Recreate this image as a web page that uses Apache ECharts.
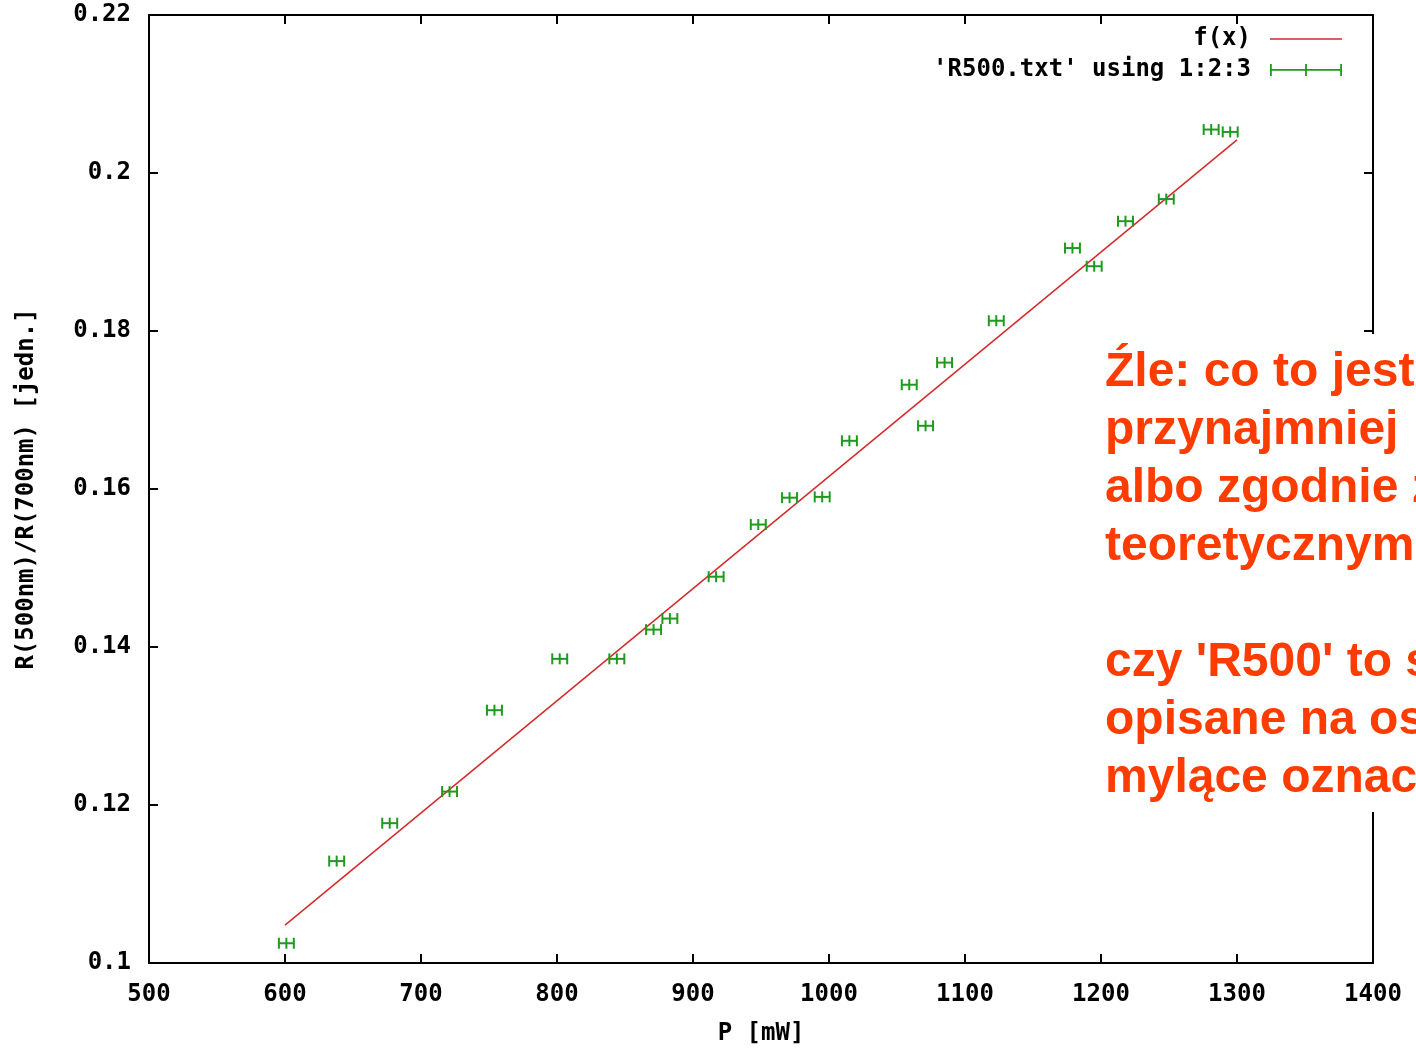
<!DOCTYPE html>
<html>
<head>
<meta charset="utf-8">
<title>R500</title>
<script src="https://cdn.jsdelivr.net/npm/echarts@6/dist/echarts.min.js"></script>
<style>
html, body { margin: 0; padding: 0; background: #fff; }
#chart { width: 1416px; height: 1048px; }
</style>
</head>
<body>
<div id="chart"></div>
<script>
// dane pomiarowe: P [mW], R(500nm)/R(700nm), niepewnosc P
var powerMW = [601, 638, 677, 721, 754, 802, 844, 871, 883, 917, 948, 971, 995, 1015, 1059, 1071, 1085, 1123, 1179, 1195, 1218, 1248, 1281, 1295];
var ratio = [0.1025, 0.1129, 0.1177, 0.1217, 0.1320, 0.1385, 0.1385, 0.1422, 0.1436, 0.1489, 0.1555, 0.1589, 0.1590, 0.1661, 0.1732, 0.1680, 0.1760, 0.1813, 0.1905, 0.1882, 0.1939, 0.1967, 0.2055, 0.2052];
var powerErr = [5.5, 5.5, 5.5, 5.5, 5.5, 5.5, 5.5, 5.5, 5.5, 5.5, 5.5, 5.5, 5.5, 5.5, 5.5, 5.5, 5.5, 5.5, 5.5, 5.5, 5.5, 5.5, 5.5, 5.5];

// dopasowana prosta f(x)
var fitX = [600, 1300];
var fitY = [0.1048, 0.2042];

var xTicks = { min: 500, max: 1400, step: 100 };
var yTicks = { min: 0.1, max: 0.22, step: 0.02 };

var noteLines = [
	'Źle: co to jest',
	'przynajmniej',
	'albo zgodnie z',
	'teoretycznym,',
	'',
	"czy 'R500' to s",
	'opisane na os',
	'mylące oznac'
];

var monoFont = '"DejaVu Sans Mono", "Liberation Mono", monospace';
var red = '#d42a2a';
var green = '#1f9a1f';

var fitData = fitX.map(function (x, i) { return [x, fitY[i]]; });
var pointData = powerMW.map(function (x, i) { return [x, ratio[i], powerErr[i]]; });

function fmtY(v) {
	return String(parseFloat(v.toFixed(3)));
}

function fmtX(v) {
	return String(v);
}

function renderErrorBar(params, api) {
	var x = api.value(0), y = api.value(1), dx = api.value(2);
	var a = api.coord([x - dx, y]);
	var b = api.coord([x + dx, y]);
	var c = api.coord([x, y]);
	var h = 5.5;
	var st = { stroke: green, lineWidth: 2 };
	return {
		type: 'group',
		children: [
			{ type: 'line', shape: { x1: a[0], y1: a[1], x2: b[0], y2: b[1] }, style: st },
			{ type: 'line', shape: { x1: a[0], y1: a[1] - h, x2: a[0], y2: a[1] + h }, style: st },
			{ type: 'line', shape: { x1: b[0], y1: b[1] - h, x2: b[0], y2: b[1] + h }, style: st },
			{ type: 'line', shape: { x1: c[0], y1: c[1] - h, x2: c[0], y2: c[1] + h }, style: st }
		]
	};
}

var axisCommon = {
	type: 'value',
	axisLine: { show: true, onZero: false, lineStyle: { color: '#000', width: 2 } },
	axisTick: { show: true, inside: true, length: 9, lineStyle: { color: '#000', width: 2 } },
	splitLine: { show: false }
};

function axis(extra) {
	return Object.assign({}, JSON.parse(JSON.stringify(axisCommon)), extra);
}

var chart = echarts.init(document.getElementById('chart'));
var option = {
	backgroundColor: '#fff',
	animation: false,
	grid: { left: 149, right: 43, top: 15, bottom: 85, outerBoundsMode: 'none', containLabel: false },
	legend: {
		orient: 'vertical',
		align: 'right',
		right: 74,
		top: 27,
		padding: 0,
		itemWidth: 72,
		itemHeight: 12,
		itemGap: 7,
		selectedMode: false,
		textStyle: { fontFamily: monoFont, fontWeight: 'bold', fontSize: 24, color: '#000', lineHeight: 24, padding: [0, 14, 0, 0] },
		data: [
			{ name: 'f(x)', icon: 'path://M0,5.2h72v1.6h-72z M0,0h0.01v12h-0.01z' },
			{ name: "'R500.txt' using 1:2:3", icon: 'path://M0,5h72v1.8h-72z M0,0h1.8v12h-1.8z M35.1,0h1.8v12h-1.8z M70.2,0h1.8v12h-1.8z' }
		]
	},
	xAxis: [
		axis({
			position: 'bottom',
			min: xTicks.min, max: xTicks.max, interval: xTicks.step,
			name: 'P [mW]',
			nameLocation: 'middle',
			nameGap: 59,
			nameTextStyle: { fontFamily: monoFont, fontWeight: 'bold', fontSize: 24, color: '#000' },
			axisLabel: { margin: 20, fontFamily: monoFont, fontWeight: 'bold', fontSize: 24, color: '#000', formatter: fmtX }
		}),
		axis({
			position: 'top',
			min: xTicks.min, max: xTicks.max, interval: xTicks.step,
			axisLabel: { show: false }
		})
	],
	yAxis: [
		axis({
			position: 'left',
			min: yTicks.min, max: yTicks.max, interval: yTicks.step,
			name: 'R(500nm)/R(700nm) [jedn.]',
			nameLocation: 'middle',
			nameRotate: 90,
			nameGap: 110,
			nameTextStyle: { fontFamily: monoFont, fontWeight: 'bold', fontSize: 24, color: '#000' },
			axisLabel: { margin: 18, fontFamily: monoFont, fontWeight: 'bold', fontSize: 24, color: '#000', formatter: fmtY }
		}),
		axis({
			position: 'right',
			min: yTicks.min, max: yTicks.max, interval: yTicks.step,
			axisLabel: { show: false }
		})
	],
	series: [
		{
			name: 'f(x)',
			type: 'line',
			symbol: 'none',
			lineStyle: { color: red, width: 1.5 },
			itemStyle: { color: red },
			data: fitData,
			z: 2
		},
		{
			name: "'R500.txt' using 1:2:3",
			type: 'custom',
			renderItem: renderErrorBar,
			itemStyle: { color: green },
			encode: { x: 0, y: 1 },
			data: pointData,
			z: 3
		}
	],
	graphic: [
		{
			type: 'rect',
			shape: { x: 1093, y: 334, width: 330, height: 478 },
			style: { fill: '#fff' },
			z: 100
		},
		{
			type: 'text',
			x: 1105,
			y: 344,
			z: 101,
			style: {
				text: noteLines.join('\n'),
				font: 'bold 48px "Liberation Sans", Arial, sans-serif',
				lineHeight: 58,
				fill: '#ff3c00',
				verticalAlign: 'top',
				align: 'left'
			}
		}
	]
};
chart.setOption(option);
</script>
</body>
</html>
